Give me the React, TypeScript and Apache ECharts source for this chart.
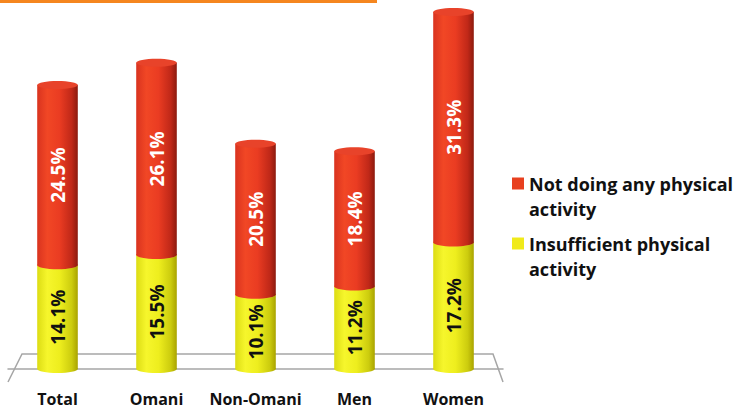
import { useEffect, useRef } from "react";
import * as echarts from "echarts";

// Physical activity shares by group (percent)
const categories = ["Total", "Omani", "Non-Omani", "Men", "Women"];
const insufficientActivity = [14.1, 15.5, 10.1, 11.2, 17.2];
const noActivity = [24.5, 26.1, 20.5, 18.4, 31.3];
const seriesNames = [
  "Not doing any physical\nactivity",
  "Insufficient physical\nactivity",
];

const FONT = '"Open Sans", "DejaVu Sans", sans-serif';

type Shade = { stops: [number, string][]; cap: string; label: string };

const redShade: Shade = {
  stops: [
    [0, "#d9331f"],
    [0.25, "#f14725"],
    [0.55, "#ea3c22"],
    [0.85, "#c02818"],
    [1, "#8c1a0e"],
  ],
  cap: "#e8432a",
  label: "#ffffff",
};

const yellowShade: Shade = {
  stops: [
    [0, "#dcdc14"],
    [0.25, "#f6f62c"],
    [0.55, "#eeee1e"],
    [0.85, "#cccc0e"],
    [1, "#a9a300"],
  ],
  cap: "#f2f23a",
  label: "#111111",
};

// Draws one cylinder segment of a stack: body, bottom rim, top cap and a rotated value label
function cylinder(shade: Shade) {
  return (_params: any, api: any) => {
    const idx = api.value(0);
    const base = api.value(1);
    const val = api.value(2);
    const p0 = api.coord([idx, base]);
    const p1 = api.coord([idx, base + val]);
    const w = api.size([1, 0])[0] * 0.41;
    const rx = w / 2;
    const ry = 4;
    const cx = p0[0];
    const grad = new echarts.graphic.LinearGradient(
      0,
      0,
      1,
      0,
      shade.stops.map(([offset, color]) => ({ offset, color }))
    );
    return {
      type: "group",
      children: [
        {
          type: "rect",
          shape: { x: cx - rx, y: p1[1], width: w, height: p0[1] - p1[1] },
          style: { fill: grad },
        },
        {
          type: "ellipse",
          shape: { cx, cy: p0[1], rx, ry },
          style: { fill: grad },
        },
        {
          type: "ellipse",
          shape: { cx, cy: p1[1], rx, ry },
          style: { fill: shade.cap },
        },
        {
          type: "text",
          x: cx,
          y: (p0[1] + p1[1]) / 2,
          rotation: Math.PI / 2,
          style: {
            text: val.toFixed(1) + "%",
            fill: shade.label,
            font: `bold 19px ${FONT}`,
            align: "center",
            verticalAlign: "middle",
          },
        },
      ],
    };
  };
}

export default function App() {
  const ref = useRef<HTMLDivElement>(null);

  useEffect(() => {
    if (!ref.current) return;
    const chart = echarts.init(ref.current, null, { renderer: "svg" });

    const lowerData = categories.map((_, i) => [i, 0, insufficientActivity[i]]);
    const upperData = categories.map((_, i) => [
      i,
      insufficientActivity[i],
      noActivity[i],
    ]);

    chart.setOption({
      animation: false,
      grid: { left: 8, right: 234, top: 1, bottom: 42 },
      xAxis: {
        type: "category",
        data: categories,
        offset: 13,
        axisLine: { lineStyle: { color: "#a6a6a6", width: 1.5 } },
        axisTick: { length: 8, lineStyle: { color: "#a6a6a6", width: 1.5 } },
        axisLabel: {
          interval: 0,
          margin: 9,
          color: "#111111",
          fontFamily: FONT,
          fontWeight: "bold",
          fontSize: 16,
        },
      },
      yAxis: { type: "value", min: 0, max: 50, show: false },
      legend: {
        orient: "vertical",
        left: 512,
        top: 146,
        padding: 0,
        itemGap: -15,
        icon: "rect",
        itemWidth: 12,
        itemHeight: 12,
        data: [seriesNames[0], seriesNames[1]],
        // leading blank line keeps the icon level with the first text line
        formatter: (name: string) => "\n" + name,
        textStyle: {
          fontFamily: FONT,
          fontWeight: "bold",
          fontSize: 18,
          lineHeight: 25,
          color: "#111111",
        },
      },
      graphic: [
        {
          type: "rect",
          z: -1,
          shape: { x: 0, y: 0, width: 377, height: 3 },
          style: { fill: "#f5861f" },
        },
        {
          type: "polyline",
          z: -1,
          shape: {
            points: [
              [8, 382],
              [22, 354],
              [493, 354],
              [503, 382],
            ],
          },
          style: { stroke: "#a6a6a6", lineWidth: 1.5, fill: "none" },
        },
      ],
      series: [
        {
          name: seriesNames[1],
          type: "custom",
          renderItem: cylinder(yellowShade),
          itemStyle: { color: "#f0ea1a" },
          encode: { x: 0, y: 2 },
          data: lowerData,
        },
        {
          name: seriesNames[0],
          type: "custom",
          renderItem: cylinder(redShade),
          itemStyle: { color: "#e8401f" },
          encode: { x: 0, y: 2 },
          data: upperData,
        },
      ],
    });

    return () => chart.dispose();
  }, []);

  return (
    <div
      ref={ref}
      style={{ position: "fixed", left: 0, top: 0, width: 737, height: 411, background: "#ffffff" }}
    />
  );
}
